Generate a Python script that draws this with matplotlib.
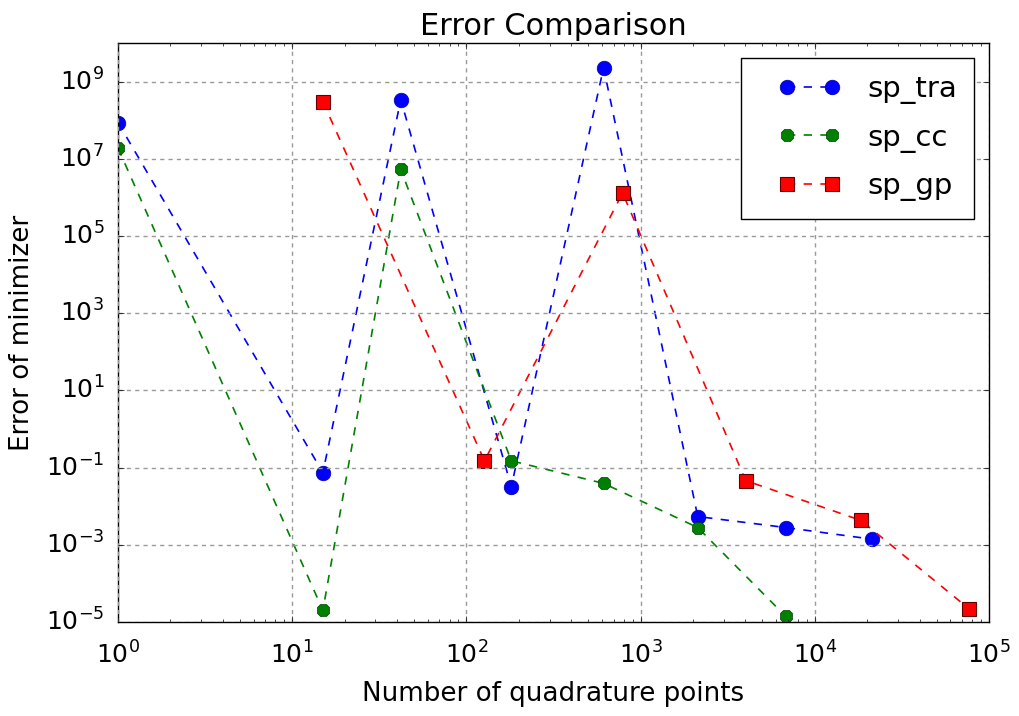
import numpy as np
import matplotlib
matplotlib.use('Agg')
import matplotlib.pyplot as plt
from matplotlib.lines import Line2D
from matplotlib.legend_handler import HandlerLine2D

# quadrature points and minimizer errors
n_tra = [1, 15, 42, 181, 613, 2128, 6810, 21280]
err_tra = [8.7e7, 0.074, 3.4e8, 0.032, 2.3e9, 0.0054, 0.0028, 0.0014]

n_cc = [1, 15, 42, 181, 613, 2128, 6810]
err_cc = [1.9e7, 2.0e-5, 5.3e6, 0.15, 0.039, 0.0028, 1.4e-5]

n_gp = [15, 127, 788, 4013, 18370, 76800]
err_gp = [3.0e8, 0.15, 1.3e6, 0.046, 0.0043, 2.2e-5]

y_ticks = [1e-5, 1e-3, 1e-1, 1e1, 1e3, 1e5, 1e7, 1e9]

plt.style.use('classic')
plt.rcParams['font.size'] = 18

fig = plt.figure(figsize=(10.19, 7.16), dpi=100)
fig.patch.set_facecolor('white')
ax = fig.add_axes([118/1019, 1 - 622/716, (989-118)/1019, (622-43)/716])

ax.loglog(n_tra, err_tra, 'bo--', ms=10.5, lw=1.2, mec='#0000a0', mew=0.5, label='sp_tra')
ax.loglog(n_cc, err_cc, 'g8--', ms=10, lw=1.2, mec='#004000', mew=0.5, label='sp_cc')
ax.loglog(n_gp, err_gp, 'rs--', ms=10, lw=1.2, mec='#600000', mew=0.8, label='sp_gp')

ax.set_xlim(1, 1e5)
ax.set_ylim(1e-5, 1e10)
ax.set_yticks(y_ticks)
ax.yaxis.set_minor_locator(matplotlib.ticker.NullLocator())
ax.grid(True, linestyle=(0, (3, 3)), color='0.6', lw=1)
ax.tick_params(axis='x', labelsize=18, pad=14)
ax.tick_params(axis='y', labelsize=18, pad=10)

ax.set_title('Error Comparison', fontsize=22, pad=6)
ax.set_xlabel('Number of quadrature points', fontsize=18.8, labelpad=9)
ax.set_ylabel('Error of minimizer', fontsize=18.8, labelpad=8)

ax.legend(loc='upper right', fontsize=21, numpoints=2,
          borderpad=0.6, labelspacing=0.67, handlelength=3.45, handletextpad=0.26,
          handler_map={Line2D: HandlerLine2D(marker_pad=0.95)})

fig.savefig('out.png', dpi=100, facecolor='white')
